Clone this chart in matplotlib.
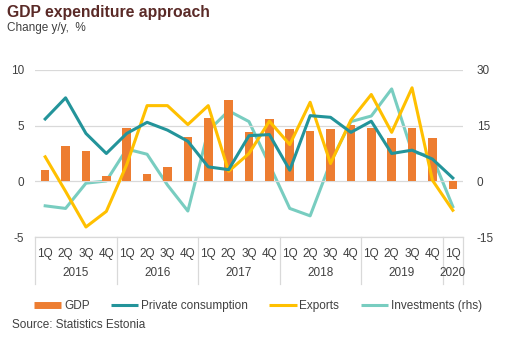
import matplotlib
matplotlib.use("Agg")
import matplotlib.pyplot as plt
from matplotlib.lines import Line2D
import numpy as np

plt.rcParams['font.family'] = ['Liberation Sans', 'DejaVu Sans']
plt.rcParams['axes.unicode_minus'] = False

quarters = ["1Q", "2Q", "3Q", "4Q"] * 5 + ["1Q"]
years = ["2015", "2016", "2017", "2018", "2019", "2020"]
year_sizes = [4, 4, 4, 4, 4, 1]

gdp = [1.0, 3.2, 2.7, 0.5, 4.8, 0.7, 1.3, 4.0, 5.7, 7.3, 4.4, 5.6,
       4.7, 4.5, 4.7, 5.1, 4.8, 3.9, 4.8, 3.9, -0.7]
consumption = [5.6, 7.5, 4.3, 2.5, 4.3, 5.3, 4.6, 3.6, 1.3, 1.05, 4.1, 4.2,
               1.0, 5.9, 5.75, 4.4, 5.4, 2.5, 2.8, 2.0, 0.3]
exports = [2.2, -0.9, -4.1, -2.7, 1.5, 6.8, 6.8, 5.1, 6.8, 0.9, 2.5, 5.4,
           3.3, 7.1, 1.6, 5.5, 7.8, 4.4, 8.4, 0.1, -2.6]
investments = [-6.6, -7.3, -0.5, 0.1, 8.7, 7.3, -1.0, -8.0, 13.6, 19.0, 16.1, 4.5,
               -7.3, -9.3, 5.1, 16.1, 17.6, 24.9, 8.0, 6.6, -6.8]

c_gdp = "#ED7D31"
c_cons = "#23949A"
c_exp = "#FFC000"
c_inv = "#78CDC0"
c_text = "#404040"

W, H = 511, 338
fig = plt.figure(figsize=(W / 100, H / 100), dpi=100)
L, R, T, B = 35, 463, 70, 237
ax = fig.add_axes([L / W, 1 - B / H, (R - L) / W, (B - T) / H])
ax2 = ax.twinx()

x = np.arange(len(gdp))
ax.bar(x, gdp, width=0.42, color=c_gdp, zorder=2)
ax.plot(x, consumption, color=c_cons, lw=2.2, zorder=4)
ax.plot(x, exports, color=c_exp, lw=2.2, zorder=3)
ax2.plot(x, investments, color=c_inv, lw=2.2, zorder=3)

ax.set_xlim(-0.5, len(gdp) - 0.5)
ax.set_ylim(-5, 10)
ax2.set_ylim(-15, 30)
ax.set_yticks([-5, 0, 5, 10])
ax2.set_yticks([-15, 0, 15, 30])
ax.yaxis.grid(True, color="#D9D9D9", lw=0.9, zorder=0)
ax.set_axisbelow(True)
ax.set_zorder(ax2.get_zorder() + 1)
ax.patch.set_visible(False)

for a in (ax, ax2):
    for s in a.spines.values():
        s.set_visible(False)
    a.tick_params(axis='y', length=0, labelsize=8.5, colors=c_text, pad=8)
ax2.tick_params(axis='y', pad=10)
ax.spines['bottom'].set_visible(True)
ax.spines['bottom'].set_color("#D9D9D9")
ax.spines['bottom'].set_linewidth(0.9)

ax.set_xticks(x)
ax.set_xticklabels(quarters)
ax.tick_params(axis='x', length=0, labelsize=8.5, colors=c_text, pad=8)

# year labels and separators
trans = ax.get_xaxis_transform()
start = 0
bounds = [-0.5]
for yr, n in zip(years, year_sizes):
    center = start + (n - 1) / 2
    ax.text(center, -0.215, yr, transform=trans, ha='center', va='center',
            fontsize=8.5, color=c_text)
    start += n
    bounds.append(start - 0.5)
for bnd in bounds:
    ax.plot([bnd, bnd], [0, -0.28], transform=trans, color="#D9D9D9", lw=0.9,
            clip_on=False)

fig.text(7 / W, 1 - 12 / H, "GDP expenditure approach", fontsize=11.3, fontweight='bold',
         color="#5A2A27", va='center', ha='left')
fig.text(7 / W, 1 - 28 / H, "Change y/y,  %", fontsize=8.5, color=c_text,
         va='center', ha='left')

handles = [Line2D([0], [0], color=c_gdp, lw=5, solid_capstyle='butt'),
           Line2D([0], [0], color=c_cons, lw=2.2, solid_capstyle='butt'),
           Line2D([0], [0], color=c_exp, lw=2.2, solid_capstyle='butt'),
           Line2D([0], [0], color=c_inv, lw=2.2, solid_capstyle='butt')]
labels = ["GDP", "Private consumption", "Exports", "Investments (rhs)"]
fig.legend(handles, labels, loc='center', bbox_to_anchor=(258 / W, 1 - 306 / H),
           ncol=4, frameon=False, fontsize=8.5, handlelength=2.3, handletextpad=0.25,
           columnspacing=1.8, labelcolor=c_text)
fig.text(12 / W, 1 - 325 / H, "Source: Statistics Estonia", fontsize=8.5, color=c_text,
         va='center', ha='left')

fig.savefig("out.png", dpi=100)
